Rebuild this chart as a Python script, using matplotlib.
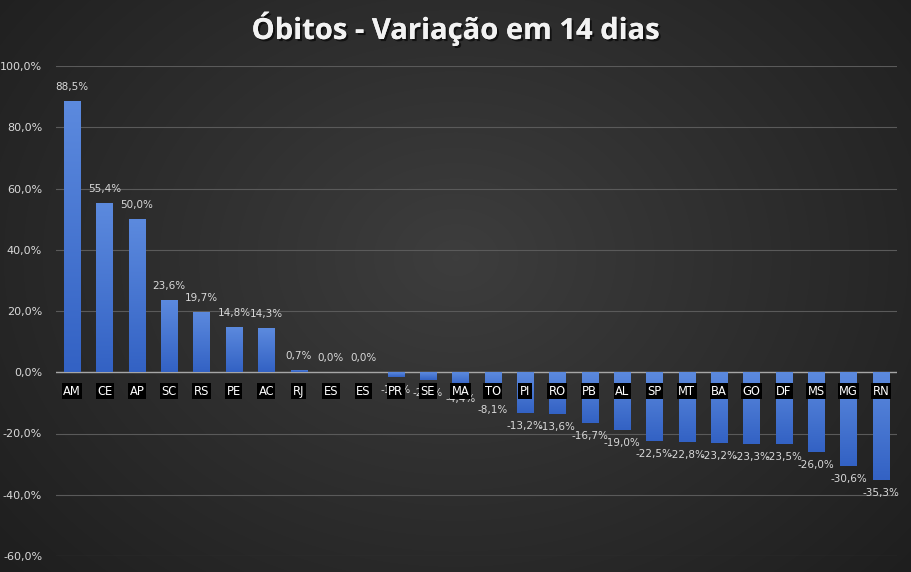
import numpy as np
import matplotlib
matplotlib.use("Agg")
import matplotlib.pyplot as plt
import matplotlib.patheffects as pe

estados = ["AM", "CE", "AP", "SC", "RS", "PE", "AC", "RJ", "ES", "ES", "PR", "SE", "MA",
           "TO", "PI", "RO", "PB", "AL", "SP", "MT", "BA", "GO", "DF", "MS", "MG", "RN"]
variacao = [88.5, 55.4, 50.0, 23.6, 19.7, 14.8, 14.3, 0.7, 0.0, 0.0, -1.6, -2.4, -4.4,
            -8.1, -13.2, -13.6, -16.7, -19.0, -22.5, -22.8, -23.2, -23.3, -23.5, -26.0, -30.6, -35.3]
yticks = [-60, -40, -20, 0, 20, 40, 60, 80, 100]
titulo = "Óbitos - Variação em 14 dias"

W, H = 911, 572
fig = plt.figure(figsize=(W / 100, H / 100), dpi=100)

# radial background gradient
bg = fig.add_axes([0, 0, 1, 1], zorder=0)
yy, xx = np.mgrid[0:H, 0:W]
r = np.sqrt(((xx - W * 0.5) / (W * 0.6)) ** 2 + ((yy - H * 0.45) / (H * 0.75)) ** 2)
v = np.clip(0.24 - 0.11 * r, 0.11, 0.25)
img = np.dstack([v, v, v])
bg.imshow(img, aspect="auto", extent=[0, 1, 0, 1])
bg.set_axis_off()

ax = fig.add_axes([56 / W, 1 - 556 / H, (897 - 56) / W, (556 - 66) / H], zorder=1)
ax.set_facecolor("none")
x = np.arange(len(estados))
bars = ax.bar(x, variacao, width=0.5, color="#4a78d6", zorder=3)

ax.set_xlim(-0.5, len(estados) - 0.5)
ax.set_ylim(-60, 100)

# vertical gradient fill on each bar (lighter top, darker bottom)
top_c = np.array([0x5c, 0x8a, 0xde]) / 255
bot_c = np.array([0x33, 0x62, 0xc4]) / 255
t = np.linspace(0, 1, 64)[:, None]
grad = (top_c[None, :] * (1 - t) + bot_c[None, :] * t)[:, None, :]
for b in bars:
    bx, by = b.get_x(), b.get_y()
    bw, bh = b.get_width(), b.get_height()
    if bh == 0:
        continue
    y0, y1 = min(by, by + bh), max(by, by + bh)
    im = ax.imshow(grad, extent=[bx, bx + bw, y0, y1], aspect="auto", zorder=3.5,
                   interpolation="bilinear")
    im.set_clip_path(b)

ax.set_yticks(yticks)
ax.set_yticklabels([f"{tk:.1f}%".replace(".", ",") for tk in yticks], color="#d9d9d9", fontsize=8)
ax.tick_params(axis="y", length=0, pad=10)
ax.set_xticks([])
for s in ax.spines.values():
    s.set_visible(False)
ax.grid(axis="y", color="#5a5a5a", linewidth=0.8, zorder=1)
ax.axhline(0, color="#a6a6a6", linewidth=1, zorder=2)

for xi, val, lab in zip(x, variacao, estados):
    ax.annotate(lab, (xi, 0), xytext=(0, -19), textcoords="offset pixels",
                ha="center", va="center", color="white", fontsize=8.3, zorder=5,
                bbox=dict(boxstyle="square,pad=0.12", fc="black", ec="none"))
    txt = f"{val:.1f}%".replace(".", ",")
    off = 14 if val >= 0 else -13
    ax.annotate(txt, (xi, val), xytext=(0, off), textcoords="offset pixels",
                ha="center", va="center", color="#d9d9d9", fontsize=7.5, zorder=4)

fig.text(0.5, 1 - 29 / H, titulo, ha="center", va="center", fontsize=21,
         fontweight="bold", color="#f2f2f2", family="Open Sans",
         path_effects=[pe.withSimplePatchShadow(offset=(1.5, -1.5), shadow_rgbFace="black", alpha=0.6),
                       pe.Normal()])

fig.savefig("out.png", dpi=100)
